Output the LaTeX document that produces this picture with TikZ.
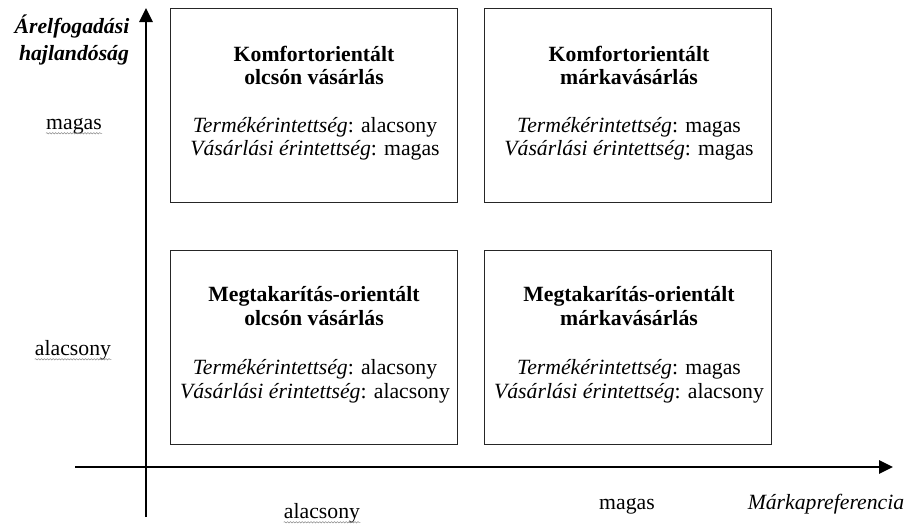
\documentclass[tikz,border=0pt]{standalone}
\usepackage{fontspec}
\setmainfont{Liberation Serif}
\usetikzlibrary{arrows.meta,decorations.pathmorphing}
\begin{document}
\begin{tikzpicture}[x=0.75pt,y=-0.75pt,
  quad/.style={draw=black!85, line width=1.1pt, minimum width=215.25pt, minimum height=145.5pt, inner sep=0pt, anchor=north west},
  axisline/.style={line width=1.4pt, -{Triangle[length=10.5pt,width=10pt]}},
  txt/.style={font=\fontsize{16.3}{19}\selectfont, anchor=base, inner sep=0pt},
  ttl/.style={txt, font=\fontsize{16.3}{19}\selectfont\bfseries},
  wavy/.style={draw=black!45, line width=0.4pt, decorate, decoration={snake, amplitude=0.5pt, segment length=2.2pt}}
]
\useasboundingbox (0,0) rectangle (909,526);
% quadrant boxes
\node[quad] (q11) at (170,8) {};
\node[quad] (q12) at (484,8) {};
\node[quad] (q21) at (170,250) {};
\node[quad] (q22) at (484,250) {};
% axes
\coordinate (yb) at (146,517);
\coordinate (yt) at (146,8);
\coordinate (xl) at (75,467);
\coordinate (xr) at (893,467);
\draw[axisline] (yb) -- (yt);
\draw[axisline] (xl) -- (xr);
% texts top-left
\node[ttl] (a1) at (314,61) {Komfortorientált};
\node[ttl] (a2) at (314,84) {olcsón vásárlás};
\node[txt] (a3) at (315,132) {\textit{Termékérintettség}: alacsony};
\node[txt] (a4) at (315,155) {\textit{Vásárlási érintettség}: magas};
% top-right
\node[ttl] (b1) at (629,61) {Komfortorientált};
\node[ttl] (b2) at (629,84) {márkavásárlás};
\node[txt] (b3) at (629,132) {\textit{Termékérintettség}: magas};
\node[txt] (b4) at (629,155) {\textit{Vásárlási érintettség}: magas};
% bottom-left
\node[ttl] (c1) at (314,301) {Megtakarítás-orientált};
\node[ttl] (c2) at (314,325) {olcsón vásárlás};
\node[txt] (c3) at (315,374) {\textit{Termékérintettség}: alacsony};
\node[txt] (c4) at (315,398) {\textit{Vásárlási érintettség}: alacsony};
% bottom-right
\node[ttl] (d1) at (629,301) {Megtakarítás-orientált};
\node[ttl] (d2) at (629,325) {márkavásárlás};
\node[txt] (d3) at (629,374) {\textit{Termékérintettség}: magas};
\node[txt] (d4) at (629,398) {\textit{Vásárlási érintettség}: alacsony};
% axis labels
\node[txt, font=\fontsize{16.3}{19}\selectfont\bfseries\itshape] (h1) at (72,33) {Árelfogadási};
\node[txt, font=\fontsize{16.3}{19}\selectfont\bfseries\itshape] (h2) at (74,60) {hajlandóság};
\node[txt] (ym) at (74,129) {magas};
\node[txt] (ya) at (73,355) {alacsony};
\node[txt] (xa) at (322,518) {alacsony};
\node[txt] (xm) at (627,509) {magas};
\node[txt, font=\fontsize{16.3}{19}\selectfont\itshape] (xt) at (826,509) {Márkapreferencia};
% spell-check underlines
\draw[wavy] ([yshift=-3.2pt]ym.base west) -- ([yshift=-3.2pt]ym.base east);
\draw[wavy] ([yshift=-3.2pt]ya.base west) -- ([yshift=-3.2pt]ya.base east);
\draw[wavy] ([yshift=-3.2pt]xa.base west) -- ([yshift=-3.2pt]xa.base east);
\end{tikzpicture}
\end{document}
